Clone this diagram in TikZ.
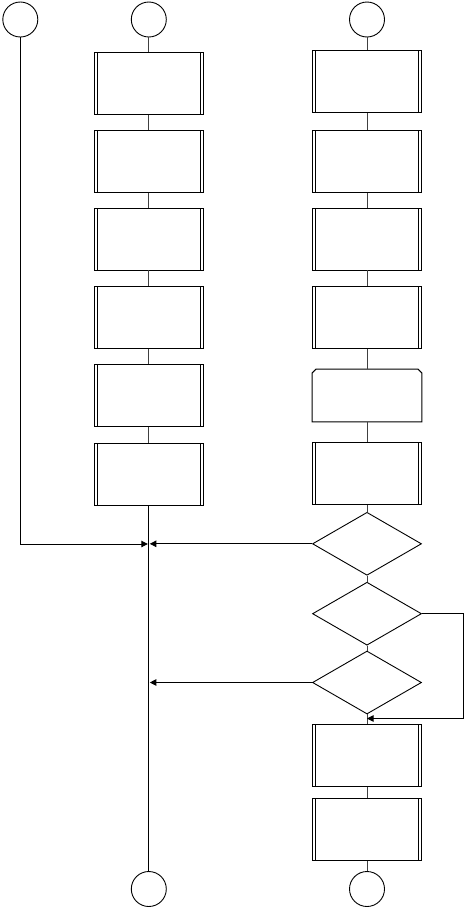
\documentclass[tikz,border=0pt]{standalone}
\usetikzlibrary{shapes.geometric,arrows.meta,calc}
\begin{document}
\begin{tikzpicture}[x=1pt,y=-1pt,line width=0.9pt,
  procbox/.style={draw, minimum width=109pt, minimum height=62pt, inner sep=0pt,
    path picture={
      \draw[line width=0.9pt] ([xshift=3pt]path picture bounding box.north west) -- ([xshift=3pt]path picture bounding box.south west);
      \draw[line width=0.9pt] ([xshift=-3pt]path picture bounding box.north east) -- ([xshift=-3pt]path picture bounding box.south east);}},
  term/.style={draw, circle, minimum size=35pt, inner sep=0pt},
  decision/.style={draw, diamond, minimum width=109pt, minimum height=63pt, inner sep=0pt},
  cutbox/.style={minimum width=109pt, minimum height=52pt, inner sep=0pt},
  link/.style={line width=0.7pt, black!75},
  arr/.style={-{Triangle[length=6.5pt,width=6.5pt]}}]
\useasboundingbox (0,0) rectangle (464,908);

% terminals
\node[term] (c1) at (20.3,19.5) {};
\node[term] (c2) at (148.8,19.5) {};
\node[term] (c3) at (367,19.5) {};
\node[term] (b1) at (148.8,889) {};
\node[term] (b2) at (367,889) {};

% left column
\node[procbox] (l1) at (148.8,83.3) {};
\node[procbox] (l2) at (148.8,161.2) {};
\node[procbox] (l3) at (148.8,239) {};
\node[procbox] (l4) at (148.8,317.2) {};
\node[procbox] (l5) at (148.8,395.3) {};
\node[procbox] (l6) at (148.8,474) {};

% right column
\node[procbox] (r1) at (367,81.5) {};
\node[procbox] (r2) at (367,161.2) {};
\node[procbox] (r3) at (367,239) {};
\node[procbox] (r4) at (367,317.2) {};
\node[cutbox]  (r5) at (367,395.5) {};
\draw[line width=1pt] ($(r5.north west)+(0,4)$) -- ($(r5.north west)+(4,0)$) -- ($(r5.north east)+(-4,0)$)
  -- ($(r5.north east)+(0,4)$) -- (r5.south east) -- (r5.south west) -- cycle;
\node[procbox] (r6) at (367,473.9) {};
\node[decision] (d1) at (367,543.8) {};
\node[decision] (d2) at (367,613.7) {};
\node[decision] (d3) at (367,682.5) {};
\node[procbox] (r7) at (367,755.3) {};
\node[procbox] (r8) at (367,829.2) {};

% helper coordinates
\coordinate (j1) at (148.8,544);
\coordinate (j2) at (367,718.5);
\coordinate (xr) at (463.3,613.7);

% links
\draw[link] (c2) -- (l1);
\draw[link] (l1) -- (l2);
\draw[link] (l2) -- (l3);
\draw[link] (l3) -- (l4);
\draw[link] (l4) -- (l5);
\draw[link] (l5) -- (l6);
\draw (l6) -- (b1);

\draw[link] (c3) -- (r1);
\draw[link] (r1) -- (r2);
\draw[link] (r2) -- (r3);
\draw[link] (r3) -- (r4);
\draw[link] (r4) -- (r5);
\draw[link] (r5) -- (r6);
\draw[link] (r6) -- (d1);
\draw[link] (d1) -- (d2);
\draw[link] (d2) -- (d3);
\draw[link] (d3) -- (r7);
\draw[link] (r7) -- (r8);
\draw[link] (r8) -- (b2);

% arrows
\draw[arr] (c1) |- ([xshift=-1pt]j1);
\draw[arr] (d1.west) -- ([xshift=1pt]d1.west -| j1);
\draw[arr] (d3.west) -- ([xshift=1pt]d3.west -| j1);
\draw[arr] (d2.east) -- (xr) |- (j2);
\end{tikzpicture}
\end{document}
